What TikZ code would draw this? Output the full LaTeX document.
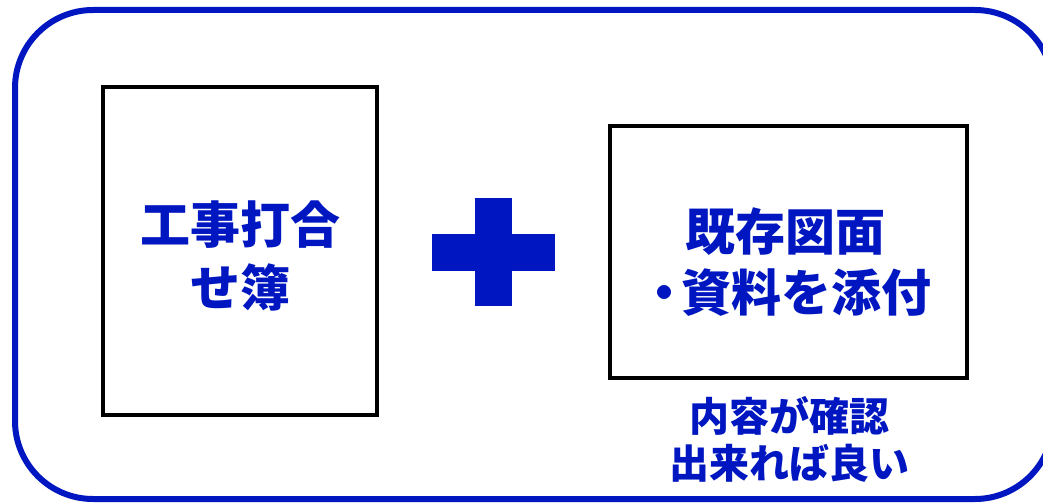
\documentclass[tikz,border=0pt]{standalone}
\usepackage{fontspec}
\newfontfamily\jp{Noto Sans CJK JP}
\definecolor{kon}{RGB}{0,22,192}
\tikzset{
  sheet/.style={draw=black, line width=4pt},
  label/.style={text=kon, font=\jp\bfseries, align=center, inner sep=0pt},
}
\begin{document}
\begin{tikzpicture}[x=1pt, y=-1pt]
\useasboundingbox (0,0) rectangle (1043,503);
\draw [kon, line width=6pt, rounded corners=78pt] (15,10) rectangle (1053,499);

\draw [sheet] (103,87) rectangle (377,415);
\node [label, font=\jp\bfseries\fontsize{50}{63}\selectfont] (uchiawase) at (240,256) {工事打合\\せ簿};

\fill [kon] (432,234) rectangle (555,271);
\fill [kon] (475,198) rectangle (512,306);

\draw [sheet] (610,126) rectangle (967,378);
\node [label, font=\jp\bfseries\fontsize{50}{61}\selectfont] (shiryo) at (785,262) {既存図面\\・\kern-8pt 資料を添付};

\node [label, font=\jp\bfseries\fontsize{40}{47}\selectfont] (kakunin) at (789,439) {内容が確認\\出来れば良い};
\end{tikzpicture}
\end{document}
